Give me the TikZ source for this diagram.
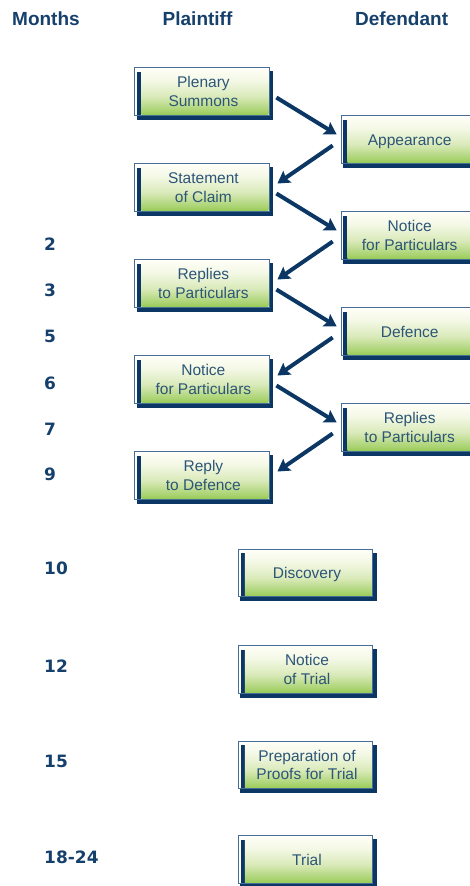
\documentclass[tikz,border=0pt]{standalone}
\usepackage{fontspec}
\setmainfont{Liberation Sans}
\newfontfamily\numfont{DejaVu Sans}
\usetikzlibrary{arrows.meta}
\definecolor{navy}{RGB}{12,55,100}
\definecolor{outl}{RGB}{70,110,150}
\definecolor{txt}{RGB}{45,85,120}
\definecolor{hdrc}{RGB}{22,64,108}
\definecolor{gbot}{RGB}{150,202,84}
\definecolor{gmid}{RGB}{218,234,186}
\definecolor{gtop}{RGB}{254,254,247}
\pgfdeclareverticalshading{boxshade}{100bp}{color(0bp)=(gbot); color(25bp)=(gbot); color(29bp)=(gbot!75!gmid); color(45bp)=(gmid); color(62bp)=(gtop!70!gmid); color(75bp)=(gtop); color(100bp)=(gtop)}
\pgfdeclarelayer{back}
\pgfsetlayers{back,main}
\tikzset{
  box/.style={draw=outl, line width=0.7pt, fill=white, minimum width=134.3pt,
    minimum height=47.5pt, inner sep=0pt, text=txt,
    font=\fontsize{15.5}{18.5}\selectfont,
    path picture={
      \fill[navy] ([xshift=2.3pt]path picture bounding box.south west) rectangle
        ([xshift=6.5pt,yshift=-4pt]path picture bounding box.north west);
      \shade[shading=boxshade] ([xshift=6.5pt,yshift=0.4pt]path picture bounding box.south west)
        rectangle ([xshift=-0.6pt,yshift=-0.9pt]path picture bounding box.north east);
    }},
  boxshadow/.style={fill=navy},
  hdr/.style={anchor=base west, text=hdrc, inner sep=0pt,
    font=\fontsize{19}{22}\selectfont\bfseries},
  mon/.style={anchor=base west, text=hdrc, inner sep=0pt,
    font=\numfont\fontsize{17}{20}\selectfont\bfseries},
  arr/.style={draw=navy, line width=4pt, -{Stealth[length=12pt,width=14pt,inset=2pt]}},
}
\newcommand\flowbox[4]{%
  \node[box] (#1) at (#2,#3) {\raisebox{-2pt}[\height][\depth]{\begin{tabular}{@{\hspace{3pt}}c@{}}#4\end{tabular}}};
  \begin{pgfonlayer}{back}
    \fill[boxshadow] ([xshift=2.3pt,yshift=-4pt]#1.south west) rectangle
      ([xshift=3.5pt,yshift=-4pt]#1.north east);
  \end{pgfonlayer}}
\begin{document}
\begin{tikzpicture}[x=1pt,y=-1pt]
\useasboundingbox (0,0) rectangle (470,886);
\clip (0,0) rectangle (470,886);
% headers
\node[hdr] (hm) at (12,25.3) {Months};
\node[hdr] (hp) at (162.5,25.3) {Plaintiff};
\node[hdr] (hd) at (355,25.3) {Defendant};
% months
\node[mon] (m2) at (44,250) {2};
\node[mon] (m3) at (44,296.7) {3};
\node[mon] (m5) at (44,342.3) {5};
\node[mon] (m6) at (44,389) {6};
\node[mon] (m7) at (44,435) {7};
\node[mon] (m9) at (44,480.7) {9};
\node[mon] (m10) at (44,574) {10};
\node[mon] (m12) at (44,672) {12};
\node[mon] (m15) at (44,767) {15};
\node[mon] (m18) at (44,863) {18-24};
% plaintiff
\flowbox{plen}{201.9}{91.5}{Plenary\\Summons}
\flowbox{stmt}{201.9}{187.5}{Statement\\of Claim}
\flowbox{repl}{201.9}{283.5}{Replies\\to Particulars}
\flowbox{notp}{201.9}{379.5}{Notice\\for Particulars}
\flowbox{reply}{201.9}{475.5}{Reply\\to Defence}
% defendant
\flowbox{app}{408.2}{139.5}{Appearance}
\flowbox{notd}{408.2}{235.5}{Notice\\for Particulars}
\flowbox{def}{408.2}{331.5}{Defence}
\flowbox{repd}{408.2}{427.5}{Replies\\to Particulars}
% centre
\flowbox{disc}{305.5}{573}{Discovery}
\flowbox{nott}{305.5}{669.5}{Notice\\of Trial}
\flowbox{prep}{305.5}{765}{Preparation of\\Proofs for Trial}
\flowbox{trial}{305.5}{859.5}{Trial}
% arrows
\foreach \a/\b in {plen/app, stmt/notd, repl/def, notp/repd}
  \draw[arr] ([xshift=7pt,yshift=-6pt]\a.east) -- ([xshift=-4pt,yshift=5pt]\b.west);
\foreach \a/\b in {app/stmt, notd/repl, def/notp, repd/reply}
  \draw[arr] ([xshift=-8pt,yshift=-6pt]\a.west) -- ([xshift=8pt,yshift=4pt]\b.east);
\end{tikzpicture}
\end{document}
